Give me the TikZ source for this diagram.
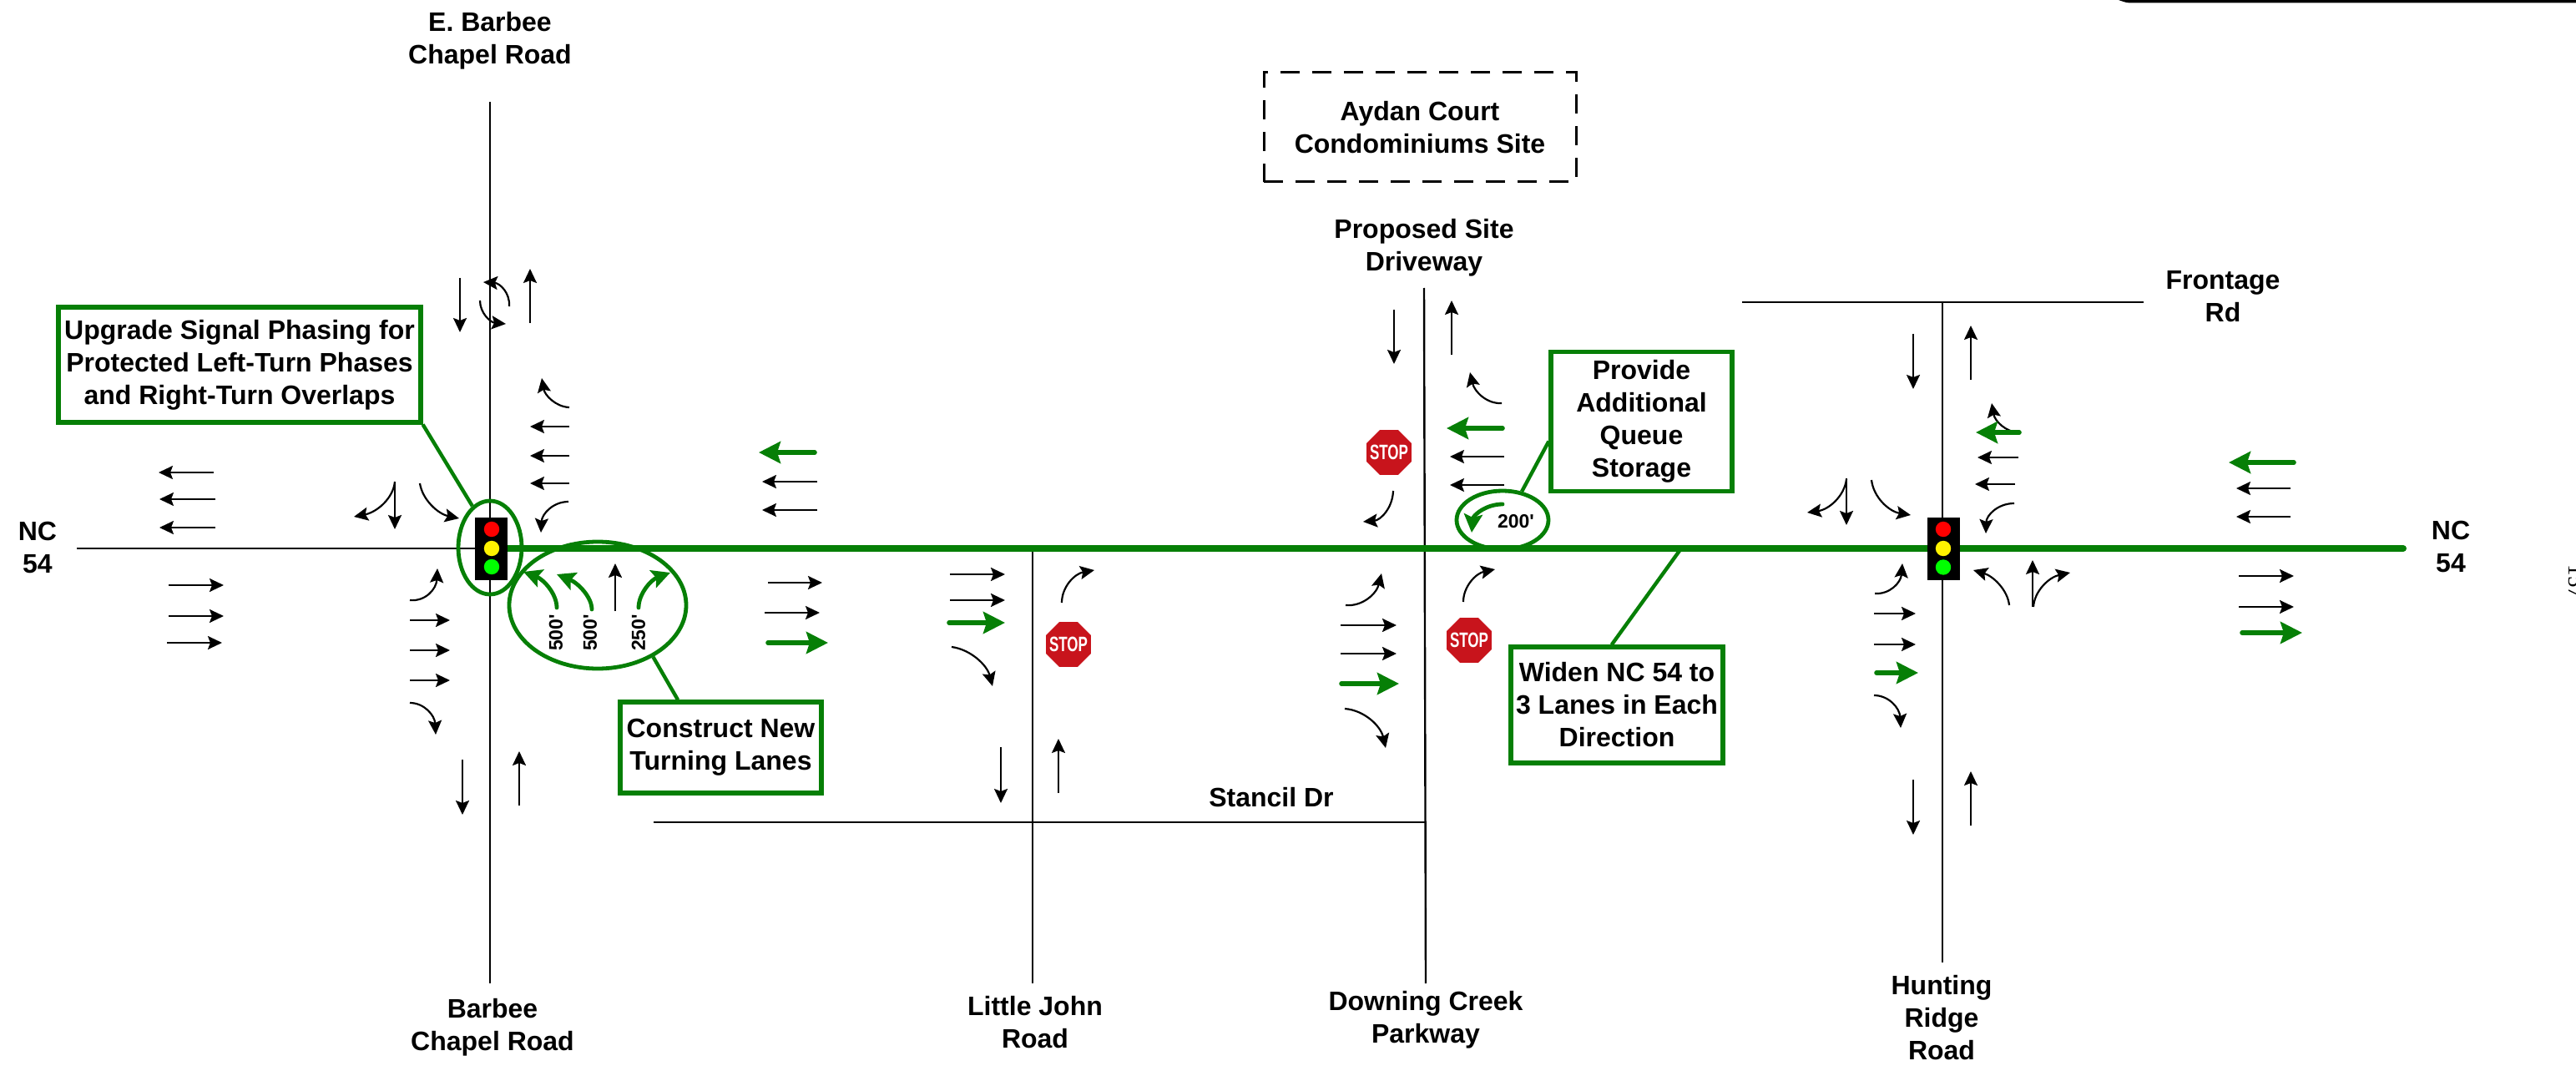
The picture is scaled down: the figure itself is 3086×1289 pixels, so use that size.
\documentclass[tikz,border=0pt]{standalone}
\usepackage{fontspec}
\setmainfont{Liberation Sans}
\newfontfamily\pagefont{Liberation Serif}
\newfontfamily\lengthfont{Liberation Sans}
\usetikzlibrary{arrows.meta,calc,shapes.geometric}
\definecolor{RoadGreen}{HTML}{067F06}
\definecolor{StopRed}{HTML}{C8141C}
\tikzset{
  roadline/.style={line width=1.2pt, draw=black},
  widened/.style={line width=4pt, draw=RoadGreen, line cap=round},
  leader/.style={line width=2.2pt, draw=RoadGreen},
  laneflow/.style={-{Stealth[length=8.5pt,width=8pt,inset=1.5pt]}, line width=1.1pt, draw=black},
  newlane/.style={-{Stealth[length=13pt,width=13pt,inset=2pt]}, line width=2.8pt,
    draw=RoadGreen, line cap=round},
  newturn/.style={-{Stealth[length=11pt,width=11pt,inset=2pt]}, line width=2.4pt,
    draw=RoadGreen, line cap=round},
  callout/.style={draw=RoadGreen, line width=2.6pt, fill=white, inner sep=0pt, align=center,
    font=\fontsize{16}{19.5}\selectfont\bfseries},
  ringmark/.style={ellipse, draw=RoadGreen, line width=2.4pt, inner sep=0pt},
  sitebox/.style={draw=black, line width=1.5pt, dash pattern=on 11.5pt off 7.5pt,
    inner sep=0pt, align=center, font=\fontsize{16}{19.5}\selectfont\bfseries},
  signalbody/.style={fill=black, minimum width=19.5pt, minimum height=37.5pt, inner sep=0pt},
  lamp/.style={circle, minimum size=9.2pt, inner sep=0pt},
  stopsign/.style={regular polygon, regular polygon sides=8, fill=StopRed,
    minimum size=29pt, inner sep=0pt,
    label={[inner sep=0pt,text=white,font=\fontsize{12.5}{13}\selectfont\bfseries]center:\scalebox{0.68}[1]{STOP}}},
  roadlabel/.style={inner sep=0pt, align=center,
    font=\fontsize{16}{19.5}\selectfont\bfseries},
  lanelabel/.style={inner sep=0pt, font=\fontsize{11.5}{12}\lengthfont\bfseries}
}
\newcommand{\turnflow}[4][laneflow]{%
  \draw[#1] (#2) .. controls ($(#2)!0.6!(#3)$) and ($(#4)!0.6!(#3)$) .. (#4);}
\begin{document}
\begin{tikzpicture}[x=0.5pt,y=-0.5pt]
  \useasboundingbox (0,0) rectangle (3086,1289);
  % roads
  \draw[roadline] (92,657) -- (600,657);
  \draw[roadline] (587,122) -- (587,1178);
  \draw[roadline] (1237,657) -- (1237,1178);
  \draw[roadline] (1706,345) -- (1708,1178);
  \draw[roadline] (2327,362) -- (2327,1153);
  \draw[roadline] (2087,362) -- (2568,362);
  \draw[roadline] (783,985) -- (1708,985);
  \draw[widened] (604,657) -- (2879,657);

  % road names
  \node[roadlabel] (barbeeN) at (587,49) {E. Barbee\\Chapel Road};
  \node[roadlabel] (barbeeS) at (590,1231) {Barbee\\Chapel Road};
  \node[roadlabel] (ncW) at (45,656) {NC\\54};
  \node[roadlabel] (ncE) at (2936,655) {NC\\54};
  \node[roadlabel] (johnS) at (1240,1225) {Little John\\Road};
  \node[roadlabel] (downS) at (1708,1222) {Downing Creek\\Parkway};
  \node[roadlabel] (huntS) at (2326,1219) {Hunting\\Ridge\\Road};
  \node[roadlabel] (stancil) at (1523,955) {Stancil Dr};
  \node[roadlabel] (frontage) at (2663,355) {Frontage\\Rd};
  \node[roadlabel] (drive) at (1706,297) {Proposed Site\\Driveway};
  \node[sitebox,minimum width=187pt,minimum height=65.5pt] (site) at (1701,152.5)
    {Aydan Court\\Condominiums Site};

  % rings and callouts
  \node[ringmark,minimum width=38pt,minimum height=56pt] (sigring) at (587,656) {};
  \node[ringmark,minimum width=106pt,minimum height=76pt] (lanering) at (716,725) {};
  \node[ringmark,minimum width=55pt,minimum height=35pt] (queuering) at (1800,623) {};
  \node[callout,minimum width=217pt,minimum height=69pt] (upgrade) at (287,437)
    {Upgrade Signal Phasing for\\Protected Left-Turn Phases\\and Right-Turn Overlaps};
  \node[callout,minimum width=120.5pt,minimum height=54.5pt] (construct) at (863.5,895.5)
    {Construct New\\Turning Lanes};
  \node[callout,minimum width=108.5pt,minimum height=83.5pt] (queue) at (1966.5,505)
    {Provide\\Additional\\Queue\\Storage};
  \node[callout,minimum width=127pt,minimum height=69.5pt] (widen) at (1937,844.5)
    {Widen NC 54 to\\3 Lanes in Each\\Direction};
  \coordinate (widenend) at (2014,657);
  \draw[leader] (upgrade.south east) -- (sigring.113);
  \draw[leader] (construct.132.6) -- (lanering.-43);
  \draw[leader] (queue.192) -- (queuering.56);
  \draw[leader] (widen.95) -- (widenend);

  % signals
  \node[signalbody] (sigA) at (588.5,657.5) {};
  \node[lamp,fill=red] (sigAr) at (589,634) {};
  \node[lamp,fill=yellow] (sigAy) at (589,657) {};
  \node[lamp,fill=green] (sigAg) at (589,679) {};
  \node[signalbody] (sigB) at (2328,657.5) {};
  \node[lamp,fill=red] (sigBr) at (2328,634) {};
  \node[lamp,fill=yellow] (sigBy) at (2328,657) {};
  \node[lamp,fill=green] (sigBg) at (2328,679.5) {};

  % stop signs
  \node[stopsign] (stopA) at (1280,772) {};
  \node[stopsign] (stopB) at (1664,542) {};
  \node[stopsign] (stopC) at (1760,767) {};

  % lane lengths
  \node[lanelabel,rotate=90] (lenA) at (666,758) {500'};
  \node[lanelabel,rotate=90] (lenB) at (707,758) {500'};
  \node[lanelabel,rotate=90] (lenC) at (765,758) {250'};
  \node[lanelabel] (lenD) at (1816,625) {200'};

  % west approach
  \draw[laneflow] (256,566) -- (190,566);
  \draw[laneflow] (258,598) -- (191,598);
  \draw[laneflow] (258,632) -- (191,632);
  \draw[laneflow] (202,701) -- (268,701);
  \draw[laneflow] (202,738) -- (268,738);
  \draw[laneflow] (200,770) -- (266,770);

  % Barbee Chapel
  \draw[laneflow] (551,333) -- (551,398);
  \draw[laneflow] (635,387) -- (635,322);
  \turnflow{610,367}{612,340}{579,338}
  \turnflow{575,360}{575,385}{606,388}
  \turnflow{682,488}{655,487}{649,453}
  \draw[laneflow] (682,511) -- (635,511);
  \draw[laneflow] (682,546) -- (635,546);
  \draw[laneflow] (682,579) -- (635,579);
  \turnflow{681,601}{650,601}{648,638}
  \turnflow{473,577}{470,610}{424,619}
  \draw[laneflow] (473,577) -- (473,634);
  \turnflow{503,579}{508,612}{550,621}
  \turnflow{491,719}{522,722}{524,681}
  \draw[laneflow] (491,743) -- (539,743);
  \draw[laneflow] (491,779) -- (539,779);
  \draw[laneflow] (491,815) -- (539,815);
  \turnflow{491,842}{520,842}{522,880}
  \draw[laneflow] (554,910) -- (554,976);
  \draw[laneflow] (622,965) -- (622,900);
  \turnflow[newturn]{667,728}{667,700}{627,685}
  \turnflow[newturn]{709,730}{709,705}{667,688}
  \draw[laneflow] (737,732) -- (737,675);
  \turnflow[newturn]{765,728}{765,700}{803,686}

  % between Barbee Chapel and Little John
  \draw[newlane] (976,542) -- (909,542);
  \draw[laneflow] (979,577) -- (913,577);
  \draw[laneflow] (979,611) -- (913,611);
  \draw[laneflow] (920,698) -- (985,698);
  \draw[laneflow] (916,734) -- (982,734);
  \draw[newlane] (920,770) -- (992,770);

  % Little John
  \draw[laneflow] (1138,688) -- (1204,688);
  \draw[laneflow] (1138,719) -- (1204,719);
  \draw[newlane] (1137,746) -- (1204,746);
  \turnflow{1140,775}{1178,780}{1189,822}
  \turnflow{1272,722}{1272,690}{1311,683}
  \draw[laneflow] (1199,895) -- (1199,962);
  \draw[laneflow] (1268,950) -- (1268,885);

  % Downing Creek and site driveway
  \draw[laneflow] (1670,371) -- (1670,436);
  \draw[laneflow] (1739,425) -- (1739,360);
  \turnflow{1799,483}{1770,485}{1761,446}
  \draw[newlane] (1800,513) -- (1733,513);
  \draw[laneflow] (1802,547) -- (1737,547);
  \draw[laneflow] (1802,581) -- (1737,581);
  \turnflow{1669,588}{1668,622}{1633,625}
  \turnflow[newturn]{1800,604}{1766,604}{1763,638}
  \turnflow{1612,725}{1645,728}{1655,687}
  \draw[laneflow] (1606,749) -- (1673,749);
  \draw[laneflow] (1606,783) -- (1673,783);
  \draw[newlane] (1607,819) -- (1676,819);
  \turnflow{1611,849}{1650,852}{1660,896}
  \turnflow{1753,721}{1753,690}{1791,682}

  % Hunting Ridge
  \draw[laneflow] (2292,400) -- (2292,466);
  \draw[laneflow] (2361,455) -- (2361,390);
  \turnflow{2419,518}{2392,518}{2386,483}
  \draw[newlane] (2419,518) -- (2367,518);
  \draw[laneflow] (2418,548) -- (2369,548);
  \draw[laneflow] (2414,580) -- (2366,580);
  \turnflow{2413,603}{2380,603}{2379,639}
  \turnflow{2212,574}{2208,608}{2165,614}
  \draw[laneflow] (2212,573) -- (2212,629);
  \turnflow{2242,575}{2246,610}{2289,617}
  \turnflow{2407,725}{2404,695}{2364,683}
  \draw[laneflow] (2435,727) -- (2435,671);
  \turnflow{2436,727}{2438,695}{2480,686}
  \turnflow{2246,711}{2276,713}{2279,675}
  \draw[laneflow] (2245,735) -- (2295,735);
  \draw[laneflow] (2245,772) -- (2295,772);
  \draw[newlane] (2248,806) -- (2298,806);
  \turnflow{2245,833}{2275,833}{2277,872}
  \draw[laneflow] (2292,934) -- (2292,1000);
  \draw[laneflow] (2361,989) -- (2361,924);

  % east approach
  \draw[newlane] (2748,554) -- (2670,554);
  \draw[laneflow] (2744,585) -- (2679,585);
  \draw[laneflow] (2744,619) -- (2679,619);
  \draw[laneflow] (2682,690) -- (2748,690);
  \draw[laneflow] (2682,727) -- (2748,727);
  \draw[newlane] (2686,758) -- (2758,758);

  % page edge
  \fill[black] (2538,0) -- (3086,0) -- (3086,3.5) -- (2556,3.5) .. controls (2548,3.5) .. cycle;
  \node[inner sep=0pt,rotate=-90,anchor=base,font=\fontsize{13.5}{14}\pagefont] (pagenum) at (3077,697) {157};
\end{tikzpicture}
\end{document}
